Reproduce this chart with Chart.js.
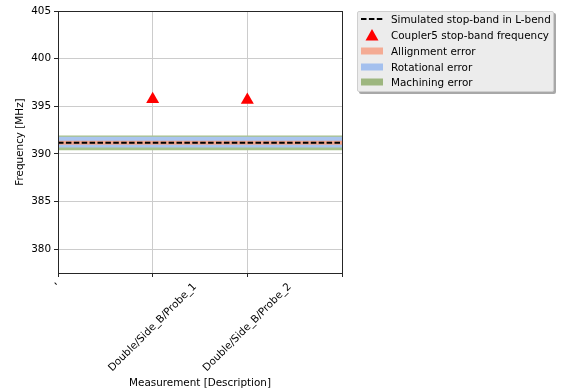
<!DOCTYPE html>
<html>
<head>
<meta charset="utf-8">
<script src="https://cdn.jsdelivr.net/npm/chart.js@4.4.0/dist/chart.umd.min.js"></script>
<style>
  body { margin: 0; background: #fff; font-family: "DejaVu Sans", sans-serif; }
  #wrap { position: relative; width: 563px; height: 390px; }
  #legend {
    position: absolute; left: 357px; top: 11px; width: 197px; height: 81px;
    box-sizing: border-box; background: #ececec; border: 1px solid #cfcfcf;
    border-radius: 2px; box-shadow: 2px 2px 0 #a8a8a8;
    font-size: 10.4px; color: #000;
  }
  .row { position: absolute; left: 0; height: 16px; line-height: 16px; white-space: nowrap; }
  .row svg { position: absolute; left: 2px; top: 0; }
  .row span { position: absolute; left: 33px; top: 0; }
</style>
</head>
<body>
<div id="wrap">
  <canvas id="chartFreq" width="563" height="390"></canvas>
  <div id="legend">
    <div class="row" style="top:-1px">
      <svg width="24" height="16"><line x1="1" y1="8" x2="23" y2="8" stroke="#000" stroke-width="2" stroke-dasharray="5.5,2.4"/></svg>
      <span>Simulated stop-band in L-bend</span>
    </div>
    <div class="row" style="top:15px">
      <svg width="24" height="16"><polygon points="12,2 18.5,13.5 5.5,13.5" fill="#ff0000"/></svg>
      <span>Coupler5 stop-band frequency</span>
    </div>
    <div class="row" style="top:31px">
      <svg width="24" height="16"><rect x="1" y="4.5" width="22" height="7" fill="#f4ab94"/></svg>
      <span>Allignment error</span>
    </div>
    <div class="row" style="top:47px">
      <svg width="24" height="16"><rect x="1" y="4.5" width="22" height="7" fill="#a4c0ee"/></svg>
      <span>Rotational error</span>
    </div>
    <div class="row" style="top:62px">
      <svg width="24" height="16"><rect x="1" y="4.5" width="22" height="7" fill="#9db67f"/></svg>
      <span>Machining error</span>
    </div>
  </div>
</div>
<script>
const xLabels = ["'", "Double/Side_B/Probe_1", "Double/Side_B/Probe_2", ""];
const xTicks = [0, 1, 2, 3];
const yTicks = [380, 385, 390, 395, 400, 405];

// measured stop-band of coupler 5 (MHz)
const couplerX = [1, 2];
const couplerFreq = [395.75, 395.66];

// simulated stop-band and error bands (MHz)
const simulated = 391.16;
const allignment = [390.95, 391.37];
const rotational = [390.66, 391.80];
const machining = [390.39, 391.93];

const yMin = 377.5;
const yMax = 405;

const FONT = "DejaVu Sans";
const FSIZE = 10.4;

Chart.defaults.font.family = FONT;
Chart.defaults.font.size = FSIZE;
Chart.defaults.color = "#000";

const flat = (v) => [{ x: xTicks[0], y: v }, { x: xTicks[xTicks.length - 1], y: v }];

const bandLine = (v, fillTo, color, order) => ({
  type: "line",
  data: flat(v),
  showLine: true,
  borderWidth: 0,
  pointRadius: 0,
  fill: fillTo,
  backgroundColor: color,
  order: order,
});

const frame = {
  id: "frame",
  afterDatasetsDraw(chart) {
    const { ctx, chartArea: a } = chart;
    ctx.save();
    ctx.strokeStyle = "#262626";
    ctx.lineWidth = 1;
    ctx.strokeRect(Math.round(a.left) + 0.5, Math.round(a.top) + 0.5,
      Math.round(a.right - a.left), Math.round(a.bottom - a.top));
    ctx.restore();
  },
};

// x labels rotated 45deg, centred under the tick (like matplotlib ha=center)
const xLabelDraw = {
  id: "xLabelDraw",
  afterDraw(chart) {
    const { ctx } = chart;
    const sx = chart.scales.x;
    const top = chart.chartArea.bottom + 4 + 4;
    ctx.save();
    ctx.font = FSIZE + "px '" + FONT + "'";
    ctx.fillStyle = "#000";
    ctx.textAlign = "center";
    ctx.textBaseline = "middle";
    xTicks.forEach((v, i) => {
      const txt = xLabels[i];
      if (!txt) return;
      const w = ctx.measureText(txt).width;
      const h = FSIZE * 1.1;
      const half = (w + h) / Math.SQRT2 / 2;
      ctx.save();
      ctx.translate(sx.getPixelForValue(v), top + half);
      ctx.rotate(-Math.PI / 4);
      ctx.fillText(txt, 0, 0);
      ctx.restore();
    });
    ctx.restore();
  },
};

new Chart(document.getElementById("chartFreq"), {
  type: "scatter",
  data: {
    datasets: [
      {
        label: "Coupler5 stop-band frequency",
        data: couplerX.map((x, i) => ({ x: x, y: couplerFreq[i] })),
        pointStyle: "triangle",
        pointRadius: 7.5,
        backgroundColor: "#ff0000",
        borderColor: "#ff0000",
        borderWidth: 0,
        order: 0,
      },
      {
        type: "line",
        label: "Simulated stop-band in L-bend",
        data: flat(simulated),
        showLine: true,
        borderColor: "#000",
        borderWidth: 2,
        borderDash: [5.5, 2.4],
        pointRadius: 0,
        fill: false,
        order: 1,
      },
      bandLine(allignment[1], 3, "#f2a58e", 2),
      bandLine(allignment[0], false, "transparent", 2),
      bandLine(rotational[1], 5, "#a9c4ee", 3),
      bandLine(rotational[0], false, "transparent", 3),
      bandLine(machining[1], 7, "#a7c28a", 4),
      bandLine(machining[0], false, "transparent", 4),
    ],
  },
  options: {
    responsive: false,
    animation: false,
    devicePixelRatio: 1,
    layout: { padding: { top: 11, right: 221, left: 0, bottom: 0 } },
    plugins: {
      legend: { display: false },
      tooltip: { enabled: false },
    },
    scales: {
      x: {
        type: "linear",
        min: 0,
        max: 3,
        afterBuildTicks: (axis) => { axis.ticks = xTicks.map((v) => ({ value: v })); },
        afterFit: (axis) => { axis.height = 117; },
        ticks: { display: false },
        grid: { color: "#cccccc", tickColor: "#262626", tickLength: 4 },
        border: { display: false },
        title: { display: true, text: "Measurement [Description]", padding: { top: 2, bottom: 0.5 } },
      },
      y: {
        min: yMin,
        max: yMax,
        afterBuildTicks: (axis) => { axis.ticks = yTicks.map((v) => ({ value: v })); },
        afterFit: (axis) => { axis.width = 58; },
        ticks: { padding: 3 },
        grid: { color: "#cccccc", tickColor: "#262626", tickLength: 4 },
        border: { display: false },
        title: { display: true, text: "Frequency [MHz]", padding: { top: 14, bottom: 2 } },
      },
    },
  },
  plugins: [frame, xLabelDraw],
});
</script>
</body>
</html>
